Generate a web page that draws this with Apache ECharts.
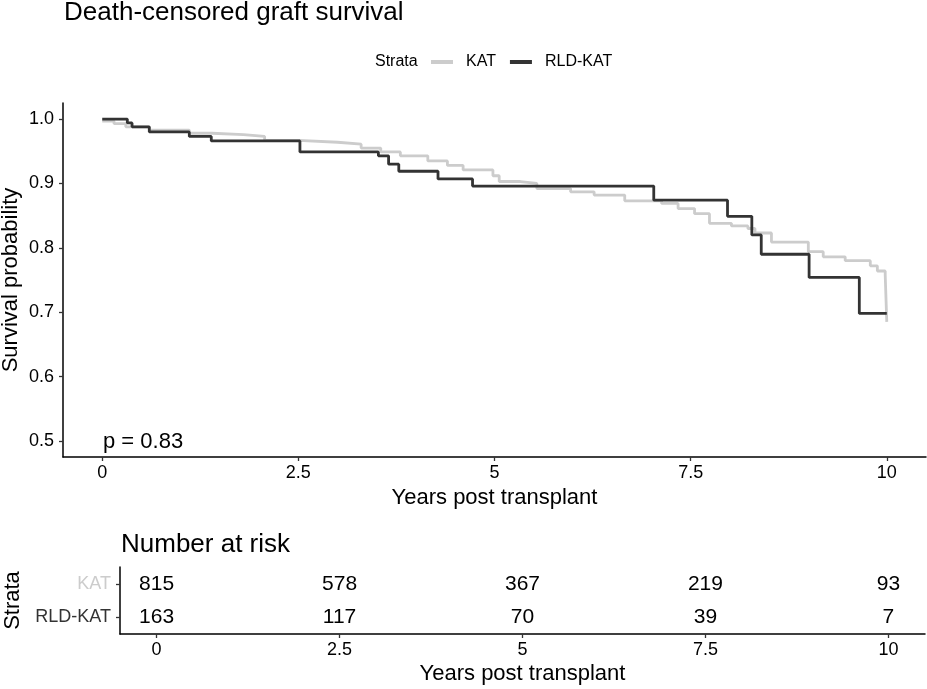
<!DOCTYPE html>
<html>
<head>
<meta charset="utf-8">
<title>Death-censored graft survival</title>
<script src="https://cdn.jsdelivr.net/npm/echarts@6/dist/echarts.min.js"></script>
<style>
  html, body { margin: 0; padding: 0; background: #fff; }
  #chart { width: 927px; height: 689px; }
</style>
</head>
<body>
<div id="chart"></div>
<script>
// KM curve, KAT
var katTime = [0, 0.15, 0.30, 0.60, 1.11, 1.40, 1.80, 2.07, 2.50, 3.00, 3.30, 3.55, 3.80, 4.15, 4.40, 4.60,
  4.98, 5.06, 5.33, 5.54, 5.97, 6.27, 6.66, 7.13, 7.34, 7.55, 7.74, 8.02, 8.23, 8.32, 8.53, 9.00, 9.19,
  9.47, 9.79, 9.88, 9.98, 10.0];
var katSurv = [0.997, 0.993, 0.988, 0.983, 0.978, 0.976, 0.973, 0.967, 0.964, 0.961, 0.955, 0.949, 0.943, 0.935, 0.928, 0.921,
  0.912, 0.903, 0.900, 0.892, 0.887, 0.882, 0.873, 0.869, 0.861, 0.853, 0.838, 0.834, 0.830, 0.823, 0.809, 0.794, 0.786,
  0.780, 0.772, 0.764, 0.758, 0.685];

// KM curve, RLD-KAT
var rldTime = [0, 0.32, 0.38, 0.60, 1.11, 1.39, 2.52, 3.52, 3.65, 3.78, 4.28, 4.72, 7.03, 7.97, 8.28, 8.40, 9.01, 9.65, 10.0];
var rldSurv = [1.0, 0.994, 0.988, 0.980, 0.973, 0.966, 0.949, 0.943, 0.930, 0.919, 0.907, 0.896, 0.874, 0.849, 0.820, 0.790, 0.754, 0.698, 0.698];

// number at risk table
var strata = ['RLD-KAT', 'KAT'];
var riskTimes = [0, 2.5, 5, 7.5, 10];
var katRisk = [815, 578, 367, 219, 93];
var rldRisk = [163, 117, 70, 39, 7];

var xTicks = [0, 2.5, 5, 7.5, 10];
var yTicks = [0.5, 0.6, 0.7, 0.8, 0.9, 1.0];

var FONT = 'Liberation Sans';
var KAT_COLOR = '#cccccc';
var RLD_COLOR = '#333333';

function pairs(xs, ys) {
  var out = [];
  for (var i = 0; i < xs.length; i++) out.push([xs[i], ys[i]]);
  return out;
}

function riskPoints(counts, name) {
  var out = [];
  for (var i = 0; i < riskTimes.length; i++) out.push([riskTimes[i], name, counts[i]]);
  return out;
}

var axisLine = { show: true, onZero: false, lineStyle: { color: '#000', width: 1.5 } };
var axisTick = { show: true, length: 4, lineStyle: { color: '#333', width: 1.3 } };
var nameStyle = { fontFamily: FONT, fontSize: 22, color: '#000' };
var riskLabel = { show: true, position: 'inside', fontSize: 21, color: '#000', fontFamily: FONT,
  textBorderWidth: 0, formatter: function (p) { return p.value[2]; } };

var chart = echarts.init(document.getElementById('chart'));

chart.setOption({
  animation: false,
  textStyle: { fontFamily: FONT },
  title: [
    { text: 'Death-censored graft survival', left: 64, top: 0, padding: 0,
      textStyle: { fontFamily: FONT, fontSize: 26, fontWeight: 'normal', color: '#000' } },
    { text: 'Number at risk', left: 121, top: 532, padding: 0,
      textStyle: { fontFamily: FONT, fontSize: 26, fontWeight: 'normal', color: '#000' } }
  ],
  legend: {
    top: 54, left: 431, padding: 0,
    data: ['KAT', 'RLD-KAT'],
    icon: 'rect', itemWidth: 22, itemHeight: 4, itemGap: 14,
    textStyle: { fontFamily: FONT, fontSize: 16, color: '#000', padding: [0, 0, 0, 8] }
  },
  graphic: [
    { type: 'text', left: 375, top: 54,
      style: { text: 'Strata', fontFamily: FONT, fontSize: 16, fill: '#000' } },
    { type: 'text', left: 103, top: 431,
      style: { text: 'p = 0.83', fontFamily: FONT, fontSize: 22, fill: '#000' } }
  ],
  grid: [
    { left: 63, right: 1, top: 103, height: 354, outerBoundsMode: 'none' },
    { left: 120, right: 2, top: 567, height: 67, outerBoundsMode: 'none' }
  ],
  xAxis: [
    { type: 'value', gridIndex: 0, min: -0.5, max: 10.5,
      name: 'Years post transplant', nameLocation: 'middle', nameGap: 30, nameTextStyle: nameStyle,
      nameMoveOverlap: false,
      splitLine: { show: false }, axisLine: axisLine,
      axisTick: Object.assign({ customValues: xTicks }, axisTick),
      axisLabel: { customValues: xTicks, margin: 7, fontSize: 18, color: '#000', fontFamily: FONT } },
    { type: 'value', gridIndex: 1, min: -0.5, max: 10.5,
      name: 'Years post transplant', nameLocation: 'middle', nameGap: 29, nameTextStyle: nameStyle,
      nameMoveOverlap: false,
      splitLine: { show: false }, axisLine: axisLine,
      axisTick: Object.assign({ customValues: xTicks }, axisTick),
      axisLabel: { customValues: xTicks, margin: 7, fontSize: 18, color: '#000', fontFamily: FONT } }
  ],
  yAxis: [
    { type: 'value', gridIndex: 0, min: 0.475, max: 1.025,
      name: 'Survival probability', nameLocation: 'middle', nameGap: 41, nameRotate: 90, nameTextStyle: nameStyle,
      nameMoveOverlap: false,
      splitLine: { show: false }, axisLine: axisLine,
      axisTick: Object.assign({ customValues: yTicks }, axisTick),
      axisLabel: { customValues: yTicks, margin: 9, fontSize: 18, color: '#000', fontFamily: FONT,
        formatter: function (v) { return v.toFixed(1); } } },
    { type: 'category', gridIndex: 1, data: strata,
      name: 'Strata', nameLocation: 'middle', nameGap: 96, nameRotate: 90, nameTextStyle: nameStyle,
      nameMoveOverlap: false,
      splitLine: { show: false }, axisLine: axisLine,
      axisTick: { show: true, length: 4, alignWithLabel: true, lineStyle: { color: '#333', width: 1.3 } },
      axisLabel: { margin: 9, fontSize: 18, fontFamily: FONT,
        formatter: function (v) { return v === 'KAT' ? '{k|' + v + '}' : '{r|' + v + '}'; },
        rich: { k: { color: KAT_COLOR, fontSize: 18, fontFamily: FONT },
                r: { color: RLD_COLOR, fontSize: 18, fontFamily: FONT } } } }
  ],
  series: [
    { name: 'KAT', type: 'line', xAxisIndex: 0, yAxisIndex: 0, step: 'end',
      data: pairs(katTime, katSurv), showSymbol: false, symbol: 'none',
      lineStyle: { color: KAT_COLOR, width: 2.8 }, itemStyle: { color: KAT_COLOR }, z: 2 },
    { name: 'RLD-KAT', type: 'line', xAxisIndex: 0, yAxisIndex: 0, step: 'end',
      data: pairs(rldTime, rldSurv), showSymbol: false, symbol: 'none',
      lineStyle: { color: RLD_COLOR, width: 2.8 }, itemStyle: { color: RLD_COLOR }, z: 3 },
    { name: 'risk-KAT', type: 'scatter', xAxisIndex: 1, yAxisIndex: 1,
      data: riskPoints(katRisk, 'KAT'), symbolSize: 0, silent: true,
      itemStyle: { opacity: 1, color: '#000' }, label: riskLabel },
    { name: 'risk-RLD', type: 'scatter', xAxisIndex: 1, yAxisIndex: 1,
      data: riskPoints(rldRisk, 'RLD-KAT'), symbolSize: 0, silent: true,
      itemStyle: { opacity: 1, color: '#000' }, label: riskLabel }
  ]
});
</script>
</body>
</html>
